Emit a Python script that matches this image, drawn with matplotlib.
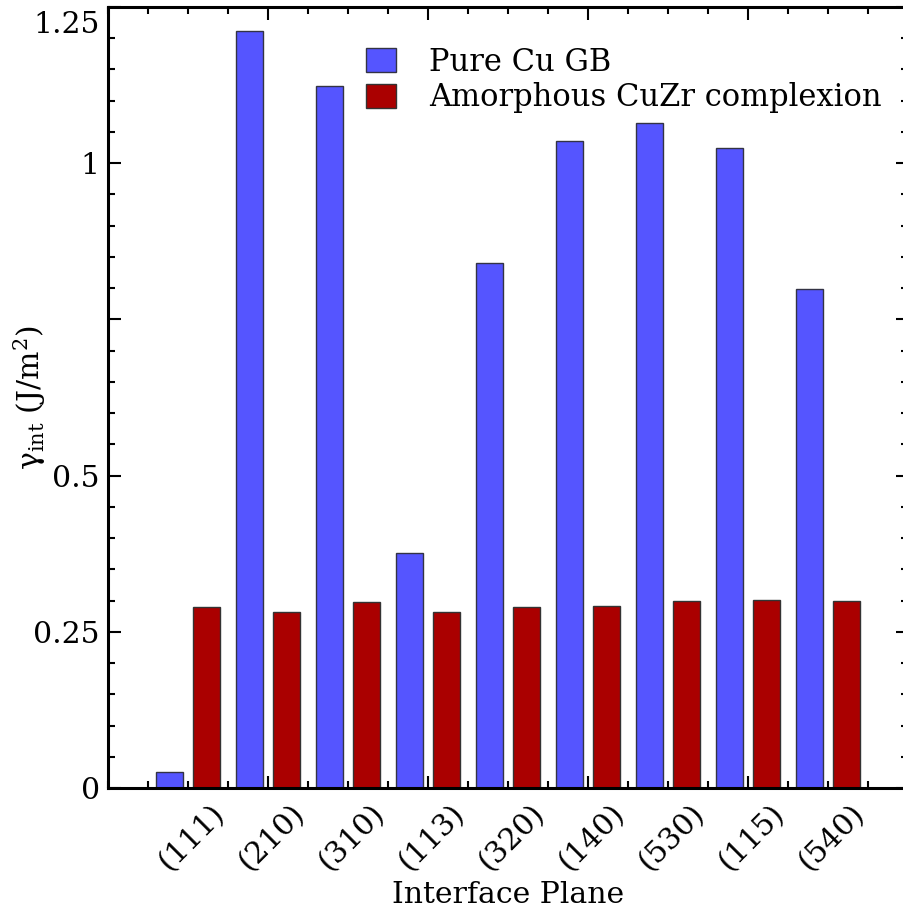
import matplotlib
matplotlib.use('Agg')
import matplotlib.pyplot as plt
import matplotlib.transforms as mtransforms
from matplotlib.ticker import MultipleLocator
import numpy as np

plt.rcParams['font.family'] = 'DejaVu Serif'
plt.rcParams['mathtext.fontset'] = 'dejavuserif'
plt.rcParams['font.size'] = 21.5

# interface energies (J/m^2) for each boundary plane
planes = ['(111)', '(210)', '(310)', '(113)', '(320)', '(140)', '(530)', '(115)', '(540)']
pure_cu = [0.026, 1.211, 1.123, 0.376, 0.840, 1.036, 1.064, 1.024, 0.799]
amorphous = [0.289, 0.281, 0.298, 0.282, 0.289, 0.292, 0.299, 0.301, 0.300]

ytick_vals = [0, 0.25, 0.5, 0.75, 1, 1.25]
ytick_labels = ['0', '0.25', '0.5', '', '1', '1.25']

x = np.arange(1, len(planes) + 1)

fig = plt.figure(figsize=(9.04, 9.11), dpi=100)
ax = fig.add_axes([108/904, 123/911, 800/904, 781/911])

ax.bar(x - 0.23, pure_cu, width=0.33, color='#5555ff', edgecolor='#333344',
       linewidth=1.0, label='Pure Cu GB')
ax.bar(x + 0.23, amorphous, width=0.33, color='#aa0000', edgecolor='#333333',
       linewidth=1.0, label='Amorphous CuZr complexion')

ax.set_xlim(0, 10)
ax.set_ylim(0, 1.25)

# numeric x axis, plane names drawn as rotated text
ax.set_xticks([2, 4, 6, 8])
ax.set_xticklabels([])
ax.xaxis.set_minor_locator(MultipleLocator(0.5))
ax.set_yticks(ytick_vals)
ax.set_yticklabels(ytick_labels)
ax.yaxis.set_minor_locator(MultipleLocator(0.05))

ax.tick_params(which='both', direction='in', top=True, right=True, width=1.5)
ax.tick_params(which='major', length=9, pad=6)
ax.tick_params(which='minor', length=5)
for sp in ax.spines.values():
    sp.set_linewidth(2.2)

# keep the top label inside the figure
top_lbl = ax.get_yticklabels()[-1]
top_lbl.set_verticalalignment('top')
top_lbl.set_transform(top_lbl.get_transform() +
                      mtransforms.ScaledTranslation(0, -3/72, fig.dpi_scale_trans))

trans = mtransforms.blended_transform_factory(ax.transData, ax.transAxes)
for xi, name in zip(x, planes):
    ax.text(xi + 0.53, -0.015, name, transform=trans, rotation=45,
            ha='right', va='top')

ax.set_xlabel('Interface Plane')
ax.xaxis.set_label_coords(0.5, -0.119)
ax.xaxis.label.set_verticalalignment('top')
ax.set_ylabel(r'$\mathrm{\gamma_{int}}$ (J/m$^2$)')
ax.yaxis.set_label_coords(-0.075, 0.5)

ax.legend(loc='upper left', bbox_to_anchor=(0.322, 0.949), frameon=False,
          borderpad=0, borderaxespad=0, handlelength=0.98, handleheight=0.82,
          handletextpad=1.1, labelspacing=0.15, fontsize=22)

plt.savefig('out.png', dpi=100)
